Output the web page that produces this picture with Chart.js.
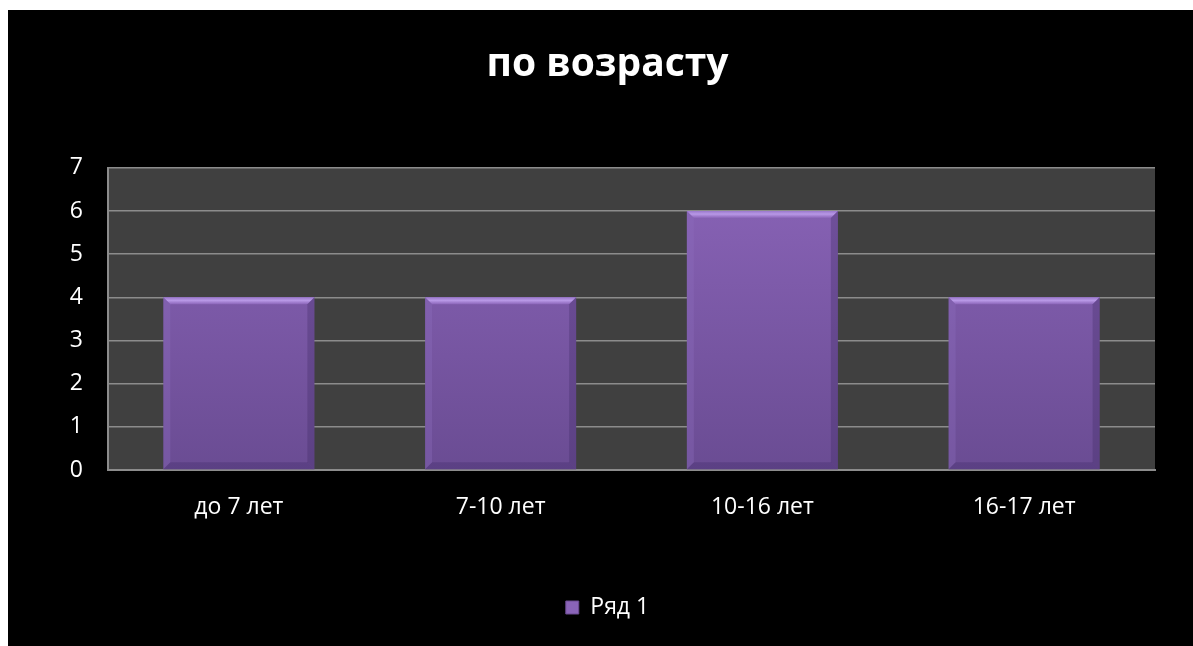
<!DOCTYPE html>
<html>
<head>
<meta charset="utf-8">
<script src="https://cdn.jsdelivr.net/npm/chart.js@4/dist/chart.umd.min.js"></script>
<style>
    body { margin: 0; background: #fff; }
    #wrap { position: absolute; left: 8px; top: 10px; width: 1185px; height: 636px; background: #000; }
</style>
</head>
<body>
<div id="wrap"><canvas id="myChart"></canvas></div>
<script>
const labels = ["до 7 лет", "7-10 лет", "10-16 лет", "16-17 лет"];
const values = [4, 4, 6, 4];
const seriesName = "Ряд 1";
const yTicks = [0, 1, 2, 3, 4, 5, 6, 7];

var ctx = document.getElementById('myChart').getContext('2d');

// grey plot background
const plotBg = {
    id: 'plotBg',
    beforeDraw(chart) {
        const a = chart.chartArea;
        const c = chart.ctx;
        c.save();
        c.fillStyle = '#404040';
        c.fillRect(a.left, a.top, a.right - a.left, a.bottom - a.top);
        c.restore();
    }
};

// bevel edges on the bars
const bevel = {
    id: 'bevel',
    afterDatasetsDraw(chart) {
        const c = chart.ctx;
        const b = 7;
        chart.getDatasetMeta(0).data.forEach(function (bar) {
            const l = bar.x - bar.width / 2, r = bar.x + bar.width / 2;
            const t = bar.y, bt = bar.base;
            c.save();
            // top
            let g = c.createLinearGradient(0, t, 0, t + b);
            g.addColorStop(0, '#9a78cc');
            g.addColorStop(0.45, '#b898e6');
            g.addColorStop(1, '#8a64b8');
            c.fillStyle = g;
            c.beginPath();
            c.moveTo(l, t); c.lineTo(r, t); c.lineTo(r - b, t + b); c.lineTo(l + b, t + b);
            c.closePath(); c.fill();
            // left
            c.fillStyle = 'rgba(140,110,190,0.35)';
            c.beginPath();
            c.moveTo(l, t); c.lineTo(l + b, t + b); c.lineTo(l + b, bt - b); c.lineTo(l, bt);
            c.closePath(); c.fill();
            // right
            c.fillStyle = 'rgba(60,40,95,0.3)';
            c.beginPath();
            c.moveTo(r, t); c.lineTo(r - b, t + b); c.lineTo(r - b, bt - b); c.lineTo(r, bt);
            c.closePath(); c.fill();
            // bottom
            c.fillStyle = 'rgba(70,48,110,0.4)';
            c.beginPath();
            c.moveTo(l, bt); c.lineTo(l + b, bt - b); c.lineTo(r - b, bt - b); c.lineTo(r, bt);
            c.closePath(); c.fill();
            c.restore();
        });
    }
};

const data = {
    labels,
    datasets: [{
        label: seriesName,
        data: values,
        backgroundColor: function (context) {
            const a = context.chart.chartArea;
            if (!a) return '#7a58a8';
            const g = context.chart.ctx.createLinearGradient(0, a.top, 0, a.bottom);
            g.addColorStop(0, '#8a64b8');
            g.addColorStop(1, '#6a4c93');
            return g;
        },
        borderWidth: 0,
        barPercentage: 0.577,
        categoryPercentage: 1.0,
    }]
};

const config = {
    type: 'bar',
    data: data,
    plugins: [plotBg, bevel],
    options: {
        responsive: true,
        maintainAspectRatio: false,
        animation: false,
        layout: { padding: { left: 52, right: 38, top: 0, bottom: 17 } },
        plugins: {
            title: {
                display: true,
                text: 'по возрасту',
                color: '#ffffff',
                font: { family: 'Open Sans', size: 39, weight: 'bold' },
                padding: { top: 31, bottom: 80 }
            },
            legend: {
                position: 'bottom',
                labels: {
                    color: '#ffffff',
                    font: { family: 'Open Sans', size: 23 },
                    boxWidth: 13,
                    boxHeight: 13,
                    padding: 10,
                    generateLabels: function (chart) {
                        return [{
                            text: seriesName,
                            fillStyle: '#8a64b8',
                            strokeStyle: '#6a4a90',
                            lineWidth: 1,
                            fontColor: '#ffffff',
                            datasetIndex: 0
                        }];
                    }
                }
            },
            tooltip: { enabled: false }
        },
        scales: {
            x: {
                afterFit: function (scale) { scale.height = 116; },
                grid: { display: false },
                border: { display: true, color: '#8c8c8c', width: 2 },
                ticks: {
                    color: '#ffffff',
                    font: { family: 'Open Sans', size: 23 },
                    padding: 16
                }
            },
            y: {
                min: 0,
                max: 7,
                afterFit: function (scale) { scale.width = 48; },
                afterBuildTicks: function (scale) {
                    scale.ticks = yTicks.map(function (v) { return { value: v }; });
                },
                grid: { color: '#8c8c8c', lineWidth: 1.5, drawTicks: false },
                border: { display: true, color: '#8c8c8c', width: 2 },
                ticks: {
                    color: '#ffffff',
                    font: { family: 'Open Sans', size: 23 },
                    padding: 25
                }
            }
        }
    }
};

const myChart = new Chart(ctx, config);
</script>
</body>
</html>
